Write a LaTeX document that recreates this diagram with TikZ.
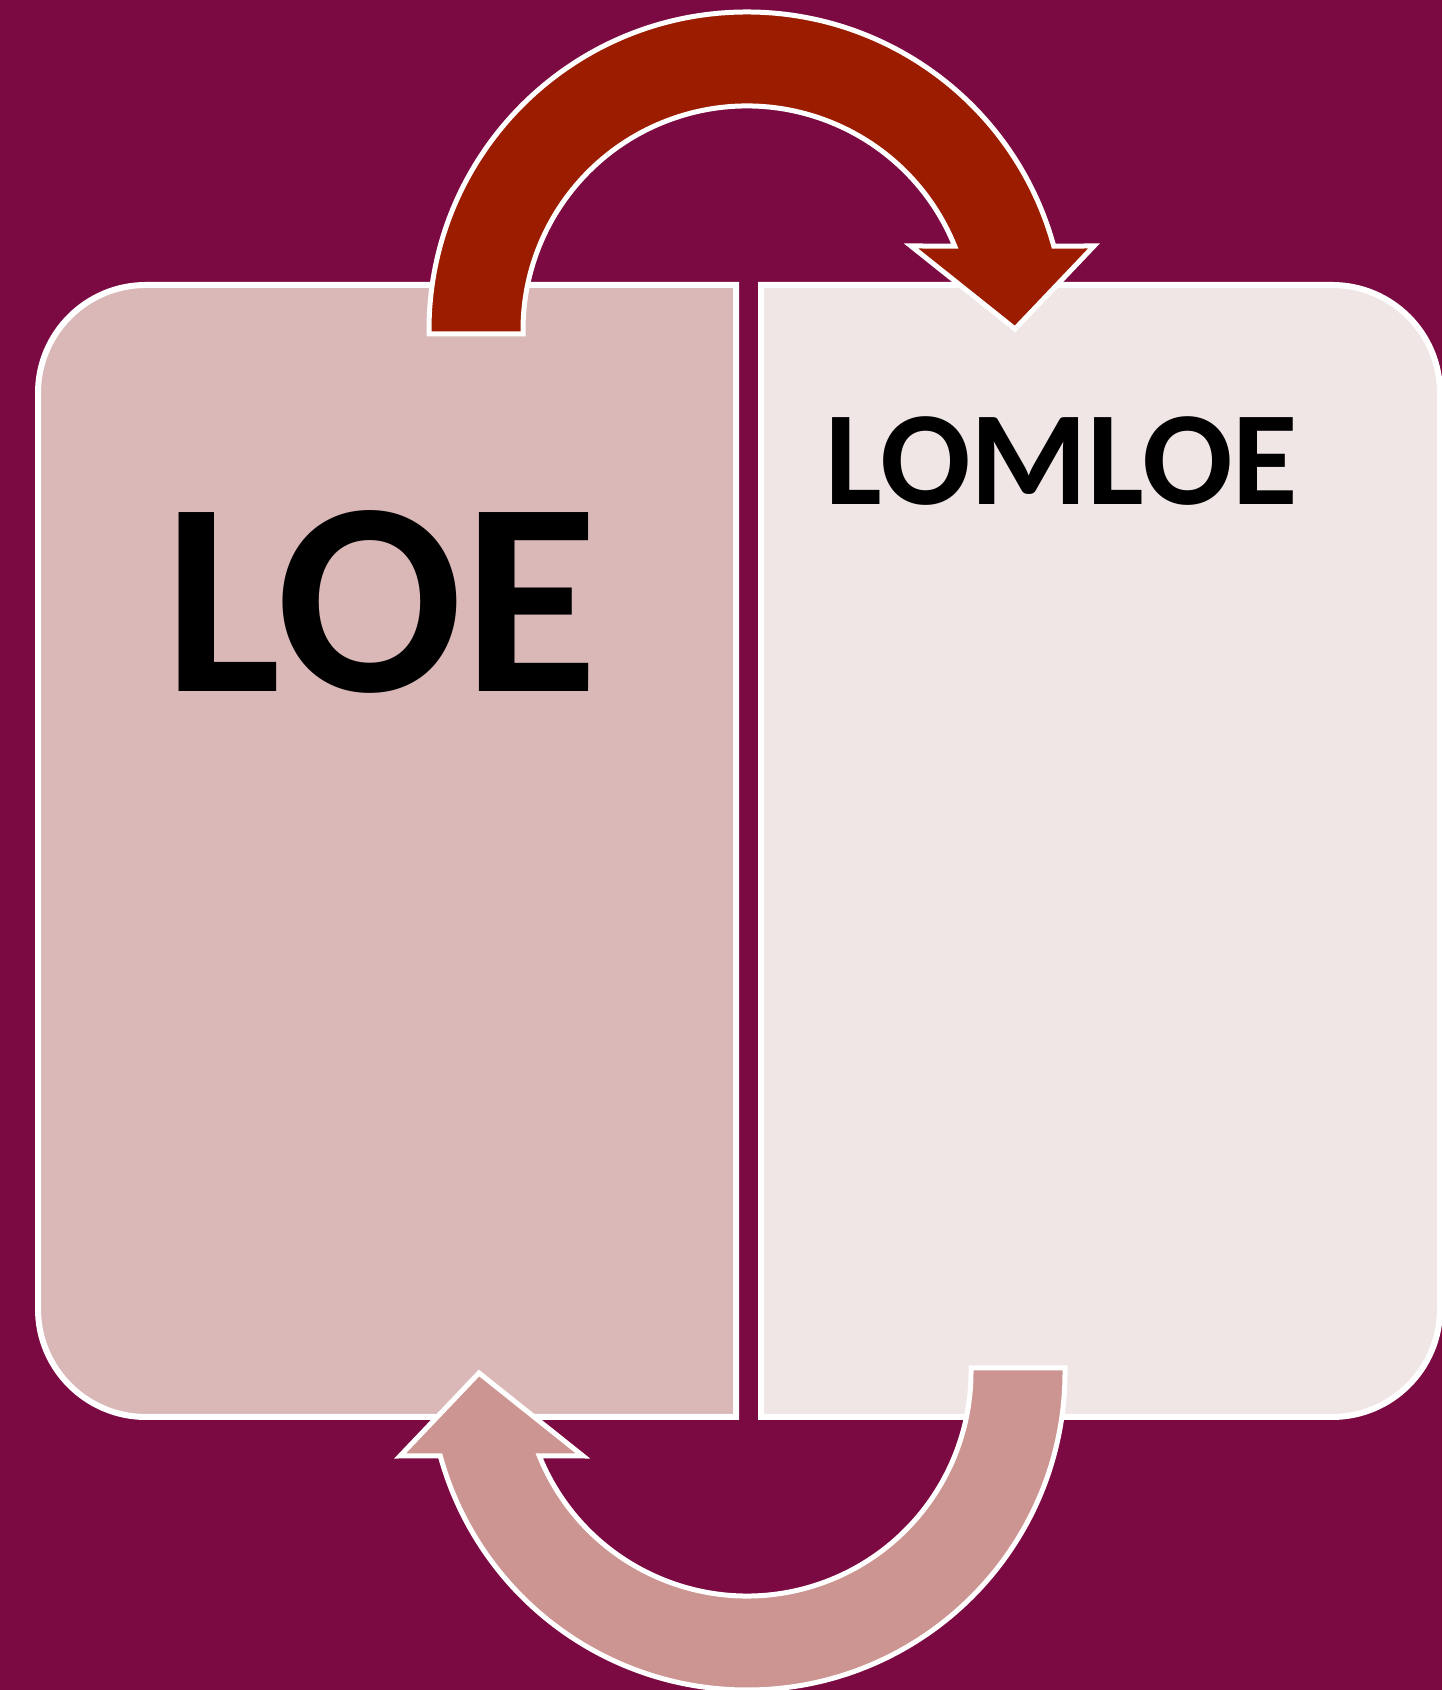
\documentclass[tikz,border=0pt]{standalone}
\usepackage{fontspec}
\setmainfont{Carlito}
\definecolor{bgc}{HTML}{7B0A42}
\definecolor{leftc}{HTML}{DBB8B8}
\definecolor{rightc}{HTML}{F0E6E6}
\definecolor{toparr}{HTML}{9C1C00}
\definecolor{botarr}{HTML}{CC9591}
\newcommand\myarrowpath{(429,1356) -- (429,1360) arc[start angle=180, end angle=15.3, radius=318] -- (1094,1444) -- (1015,1361) -- (911,1444) -- ([shift={(747,1360)}]22:224) arc[start angle=22, end angle=180, radius=224] -- (523,1356) -- cycle}
\begin{document}
\begin{tikzpicture}[x=0.5pt,y=0.5pt,
  boxstyle/.style={draw=white, line width=3pt},
  arrstyle/.style={draw=white, line width=2.5pt, line join=miter},
  bigtext/.style={inner sep=0pt, font=\bfseries\fontsize{138}{138}\selectfont},
  smalltext/.style={inner sep=0pt, font=\bfseries\fontsize{67}{67}\selectfont}]
\useasboundingbox (0,0) rectangle (1442,1690);
\fill[bgc] (0,0) rectangle (1442,1690);
% left box
\path[boxstyle, fill=leftc] (736,1405) -- (146,1405) arc[start angle=90, end angle=180, radius=108] -- (38,381) arc[start angle=180, end angle=270, radius=108] -- (736,273) -- cycle;
% right box
\path[boxstyle, fill=rightc] (761,1405) -- (1332,1405) arc[start angle=90, end angle=0, radius=108] -- (1440,381) arc[start angle=0, end angle=-90, radius=108] -- (761,273) -- cycle;
% texts
\node[bigtext] (loe) at (381,1088) {LOE};
\node[smalltext] (lomloe) at (1062,1229) {LOMLOE};
% arrows
\path[arrstyle, fill=toparr] \myarrowpath;
\begin{scope}[rotate around={180:(747,839)}]
\path[arrstyle, fill=botarr] \myarrowpath;
\end{scope}
\end{tikzpicture}
\end{document}
